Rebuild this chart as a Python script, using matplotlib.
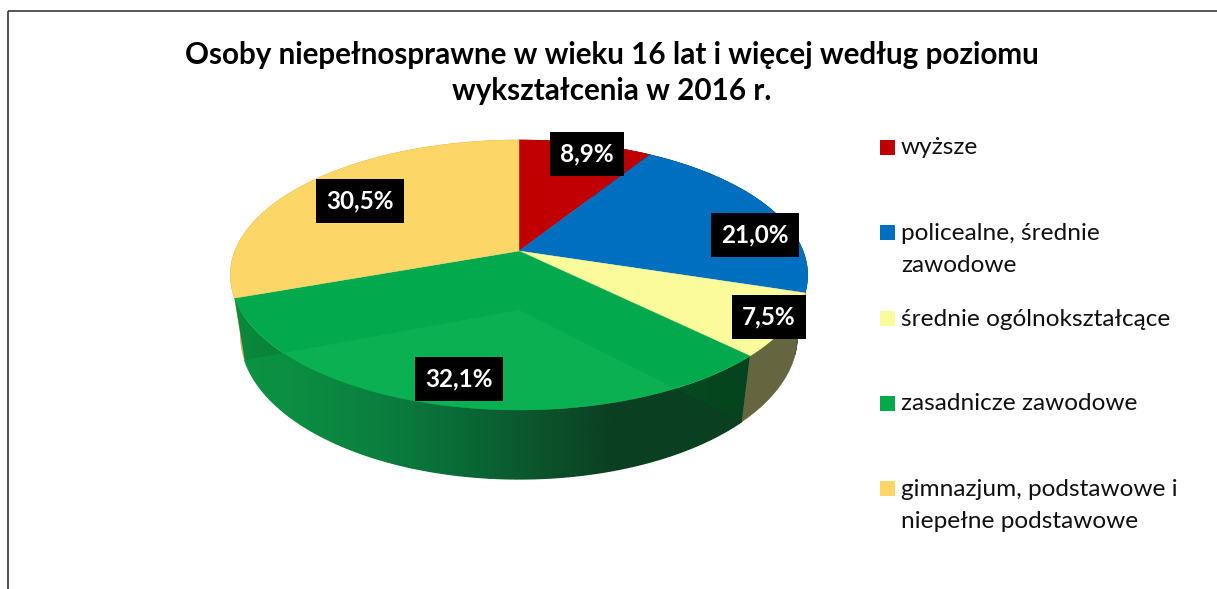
import matplotlib
matplotlib.use('Agg')
import matplotlib.pyplot as plt
import numpy as np
from matplotlib.collections import LineCollection
from matplotlib.colors import LinearSegmentedColormap
from matplotlib.patches import Polygon, Rectangle

title_lines = ['Osoby niepełnosprawne w wieku 16 lat i więcej według poziomu',
               'wykształcenia w 2016 r.']
categories = ['wyższe', 'policealne, średnie\nzawodowe', 'średnie ogólnokształcące',
              'zasadnicze zawodowe', 'gimnazjum, podstawowe i\nniepełne podstawowe']
values = [8.9, 21.0, 7.5, 32.1, 30.5]
colors = ['#C00000', '#006FC0', '#FBFB9B', '#03A94D', '#FCD667']
side_colors = ['#600000', '#003860', '#65653F', '#0B6233', '#D9A84F']

# pixel positions of the black value boxes and the legend rows
label_xy = [(587, 154), (755, 235), (769, 317), (459, 379), (360, 201)]
legend_y = [147, 232, 318, 403, 488]

plt.rcParams['font.family'] = ['Lato', 'DejaVu Sans']

fig = plt.figure(figsize=(12.17, 5.89), dpi=100)
ax = fig.add_axes([0, 0, 1, 1])
ax.set_xlim(0, 1217)
ax.set_ylim(589, 0)
ax.axis('off')

# perspective of the pie
cx, cy = 519, 251
c, a, b = 284, 130.7, 0.178
depth = 59
sx, sy = 0.965, 1.063
grad_x0, grad_x1 = 230, 750


def top_pt(pct):
    th = np.radians(np.asarray(pct) * 3.6)
    d = 1 + b * np.cos(th)
    return cx + c * np.sin(th) / d, cy - a * np.cos(th) / d


def bottom_pt(pct):
    x, y = top_pt(pct)
    return cx + (x - cx) * sx, cy + (y - cy) * sy + depth


def arc(func, p0, p1):
    return np.column_stack(func(np.linspace(p0, p1, 200)))


def gradient(cmap, clip, z):
    im = ax.imshow(np.linspace(0, 1, 512).reshape(1, -1), cmap=cmap, aspect='auto',
                   extent=(grad_x0, grad_x1, 489, 250), zorder=z, interpolation='bilinear')
    im.set_clip_path(Polygon(clip, closed=True, transform=ax.transData))


corner_cmap = LinearSegmentedColormap.from_list('corner', [(0, '#0A8A3C'), (0.5, '#086030'),
                                                           (0.97, '#05441E'), (1, '#05441E')])
wall_cmap = LinearSegmentedColormap.from_list('wall', [(0, '#0B9344'), (0.11, '#0B8F42'),
                                                       (0.30, '#0A7E3E'), (0.50, '#0B6233'),
                                                       (0.74, '#0B3F22'), (1, '#0B3F22')])

edges = np.concatenate([[0], np.cumsum(values)])

# side walls
for i, col in enumerate(side_colors):
    p0, p1 = edges[i], edges[i + 1]
    side = np.vstack([arc(top_pt, p0, p1), arc(bottom_pt, p1, p0)])
    if i == 3:
        gradient(corner_cmap, side, 2)
        low = arc(bottom_pt, p0, p1)
        gradient(wall_cmap, np.vstack([[(cx, cy + depth)], low]), 3)
        # smooth the clipped lower rim
        segs = np.stack([low[:-1], low[1:]], axis=1)
        rim = LineCollection(segs, colors=wall_cmap((low[:-1, 0] - grad_x0) / (grad_x1 - grad_x0)),
                             linewidths=0.9, zorder=3)
        ax.add_collection(rim)
    else:
        ax.add_patch(Polygon(side, closed=True, fc=col, ec=col, lw=0.5, zorder=1))

# top faces
for i, col in enumerate(colors):
    wedge = np.vstack([[(cx, cy)], arc(top_pt, edges[i], edges[i + 1])])
    ax.add_patch(Polygon(wedge, closed=True, fc=col, ec=col, lw=0.3, zorder=4))

# lighter reflection of the green slice on its own top face
green_top = Polygon(np.vstack([[(cx, cy)], arc(top_pt, edges[3], edges[4])]), closed=True,
                    transform=ax.transData)
shine = Polygon(np.vstack([[(cx, cy + depth)], arc(bottom_pt, edges[3], edges[4])]), closed=True,
                fc='#0BB053', ec='none', zorder=5)
ax.add_patch(shine)
shine.set_clip_path(green_top)

# value boxes
for v, (x, y) in zip(values, label_xy):
    ax.text(x, y, f'{v:.1f}%'.replace('.', ','), color='white', fontsize=17.5, fontweight='bold',
            ha='center', va='center', zorder=6,
            bbox=dict(boxstyle='square,pad=0.42', fc='black', ec='none'))

# title
for line, y in zip(title_lines, [55, 91]):
    ax.text(612, y, line, fontsize=21.3, fontweight='bold', ha='center', va='center', color='black')

# legend
for cat, col, y in zip(categories, colors, legend_y):
    ax.add_patch(Rectangle((880, y - 7.5), 15, 15, fc=col, ec='none'))
    for j, line in enumerate(cat.split('\n')):
        ax.text(901, y + 1 + j * 33, line, fontsize=17.6, va='center', ha='left', color='#111111')

# chart frame, cut off by the image edge on the right and bottom
ax.add_patch(Rectangle((8, 11), 1300, 700, fc='none', ec='#383838', lw=1.2, zorder=7))

fig.savefig('out.png', dpi=100, facecolor='white')
